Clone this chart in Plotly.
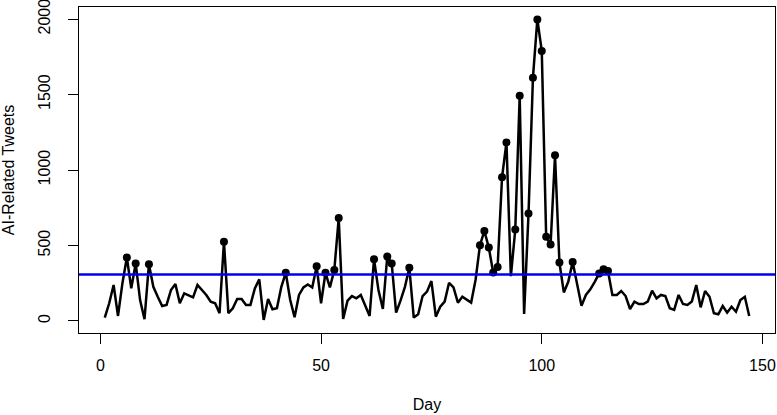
import plotly.graph_objects as go

# daily counts of AI-related tweets
days = list(range(1, 148))
tweets = [
    22, 117, 238, 33, 250, 420, 216, 381, 138, 11,
    376, 226, 160, 99, 106, 205, 244, 117, 183, 172,
    156, 238, 205, 172, 128, 117, 51, 524, 51, 84,
    145, 145, 106, 106, 216, 275, 7, 145, 77, 84,
    226, 319, 140, 24, 172, 222, 242, 222, 363, 117,
    319, 222, 337, 682, 13, 134, 165, 150, 172, 106,
    33, 409, 205, 79, 427, 381, 55, 134, 226, 352,
    22, 44, 165, 194, 264, 28, 94, 128, 253, 222,
    121, 160, 143, 121, 271, 502, 596, 486, 321, 358,
    952, 1183, 297, 605, 1492, 46, 711, 1612, 1998, 1789,
    557, 506, 1098, 387, 189, 259, 391, 245, 101, 172,
    209, 259, 315, 343, 330, 172, 172, 198, 165, 79,
    128, 112, 112, 128, 200, 150, 172, 165, 84, 73,
    172, 112, 106, 128, 238, 90, 198, 160, 51, 44,
    99, 55, 94, 61, 139, 160, 33,
]
threshold = 308

x_ticks = [0, 50, 100, 150]
y_ticks = [0, 500, 1000, 1500, 2000]

# days above the threshold get a dot
hi_days = [d for d, v in zip(days, tweets) if v > threshold]
hi_vals = [v for v in tweets if v > threshold]

fig = go.Figure()

fig.add_trace(go.Scatter(x=days, y=tweets, mode='lines',
                         line=dict(color='black', width=2.5), showlegend=False))
fig.add_trace(go.Scatter(x=hi_days, y=hi_vals, mode='markers',
                         marker=dict(color='black', size=8), showlegend=False))
fig.add_hline(y=threshold, line=dict(color='#0000ee', width=2.5))

font_family = 'Liberation Sans, Arial, sans-serif'
axis_font = dict(family=font_family, size=16, color='black')

fig.update_xaxes(range=[-4.84, 152.84], tickvals=x_ticks, ticks='outside', ticklen=10,
                 tickcolor='black', showline=True, linecolor='black', linewidth=1,
                 mirror=True, showgrid=False, zeroline=False, tickfont=axis_font,
                 ticklabelstandoff=8, ticklabeloverflow='allow',
                 title=dict(text='Day', font=axis_font, standoff=25))
fig.update_yaxes(range=[-80, 2080], tickvals=y_ticks, ticks='outside', ticklen=10,
                 tickcolor='black', showline=True, linecolor='black', linewidth=1,
                 mirror=True, showgrid=False, zeroline=False, tickfont=axis_font,
                 tickangle=-90, ticklabelstandoff=12, ticklabeloverflow='allow',
                 title=dict(text='AI-Related Tweets', font=axis_font, standoff=20))

fig.update_layout(width=777, height=415,
                  margin=dict(l=79, r=2, t=7, b=82, autoexpand=False),
                  plot_bgcolor='white', paper_bgcolor='white')

# drop the page's default body margin so the figure sits at the corner
fig.write_html("out.html", config={'displayModeBar': False},
               post_script="document.body.style.margin='0';")
